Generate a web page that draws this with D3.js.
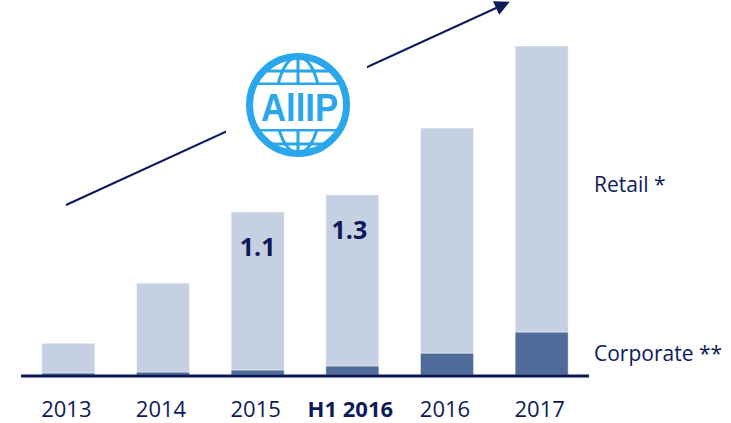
<!DOCTYPE html>
<html>
<head>
<meta charset="utf-8">
<script src="https://cdn.jsdelivr.net/npm/d3@7"></script>
<style>
  body { margin: 0; background: #fff; }
  text { font-family: 'Open Sans', sans-serif; }
</style>
</head>
<body>
<div id="chart"></div>
<script>
// Data (million customers)
const years = ['2013', '2014', '2015', 'H1 2016', '2016', '2017']
const retail = [0.20, 0.60, 1.066, 1.154, 1.518, 1.93]
const corporate = [0.014, 0.02, 0.034, 0.061, 0.148, 0.29]
const valueLabels = [null, null, '1.1', '1.3', null, null]
const seriesNames = ['Retail *', 'Corporate **']

const navy = '#0d1a5a'

const dimensions = { width: 731, height: 423 }

const svg = d3.select('#chart')
  .append('svg')
  .attr('width', dimensions.width)
  .attr('height', dimensions.height)

const rows = years.map((y, i) => ({ year: y, corporate: corporate[i], retail: retail[i], label: valueLabels[i] }))

// Scales
const xScale = d3.scaleBand()
  .domain(years)
  .range([21, 589])
  .paddingInner(0.44)
  .paddingOuter(0.22)

const yScale = d3.scaleLinear()
  .domain([0, 2.22])
  .range([375, 46])

const stack = d3.stack().keys(['corporate', 'retail'])
const layers = stack(rows)
const colors = { corporate: '#4e6b99', retail: '#c5d0e2' }

// Arrow (drawn first so the logo box covers it)
svg.append('defs').append('marker')
  .attr('id', 'head')
  .attr('viewBox', '0 0 10 10')
  .attr('refX', 8).attr('refY', 5)
  .attr('markerUnits', 'userSpaceOnUse')
  .attr('orient', 'auto')
  .attr('markerWidth', 17).attr('markerHeight', 15)
  .append('path')
  .attr('d', 'M0,0 L10,5 L0,10 Z')
  .attr('fill', navy)

svg.append('line')
  .attr('x1', 66).attr('y1', 205)
  .attr('x2', 507).attr('y2', 3)
  .attr('stroke', navy)
  .attr('stroke-width', 2)
  .attr('marker-end', 'url(#head)')

// Bars
svg.selectAll('g.layer')
  .data(layers)
  .join('g')
  .attr('class', 'layer')
  .attr('fill', d => colors[d.key])
  .selectAll('rect')
  .data(d => d)
  .join('rect')
  .attr('x', d => xScale(d.data.year))
  .attr('width', xScale.bandwidth())
  .attr('y', d => yScale(d[1]))
  .attr('height', d => yScale(d[0]) - yScale(d[1]))
  .attr('stroke', 'rgba(255,255,255,0.45)')
  .attr('stroke-width', 1)

// Value labels inside bars
svg.selectAll('text.value')
  .data(rows.filter(d => d.label))
  .join('text')
  .attr('class', 'value')
  .attr('x', d => xScale(d.year) + xScale.bandwidth() / 2 - (d.year === 'H1 2016' ? 3 : 0))
  .attr('y', d => yScale(d.corporate + d.retail) + 44)
  .attr('text-anchor', 'middle')
  .attr('fill', navy)
  .style('font-size', '25px')
  .style('font-weight', 700)
  .text(d => d.label)

// Baseline
svg.append('line')
  .attr('x1', xScale.range()[0]).attr('x2', xScale.range()[1])
  .attr('y1', 376).attr('y2', 376)
  .attr('stroke', '#0c1650')
  .attr('stroke-width', 3)

// Category labels
svg.selectAll('text.year')
  .data(years)
  .join('text')
  .attr('class', 'year')
  .attr('x', d => xScale(d) + xScale.bandwidth() / 2 - 2)
  .attr('y', 416.5)
  .attr('text-anchor', 'middle')
  .attr('fill', navy)
  .style('font-size', '22px')
  .style('font-weight', d => d === 'H1 2016' ? 700 : 500)
  .text(d => d)

// Series labels on the right
svg.append('text')
  .attr('x', 594)
  .attr('y', 192)
  .attr('fill', navy)
  .style('font-size', '21px')
  .text(seriesNames[0])

svg.append('text')
  .attr('x', 594)
  .attr('y', 361)
  .attr('fill', navy)
  .style('font-size', '21px')
  .text(seriesNames[1])

// AllIP logo
const logo = svg.append('g')
const cx = 298, cy = 105, r = 48
const blue = '#29a6ec'

logo.append('rect')
  .attr('x', 226).attr('y', 38)
  .attr('width', 141).attr('height', 130)
  .attr('fill', '#fff')

logo.append('clipPath').attr('id', 'globe')
  .append('circle').attr('cx', cx).attr('cy', cy).attr('r', r)

const grid = logo.append('g')
  .attr('clip-path', 'url(#globe)')
  .attr('stroke', blue)
  .attr('stroke-width', 3)
  .attr('fill', 'none')

;[-34, -21, 25, 39].forEach(dy => {
  grid.append('line')
    .attr('x1', cx - r).attr('x2', cx + r)
    .attr('y1', cy + dy).attr('y2', cy + dy)
})
grid.append('line')
  .attr('x1', cx).attr('x2', cx)
  .attr('y1', cy - r).attr('y2', cy + r)
grid.append('ellipse')
  .attr('cx', cx).attr('cy', cy)
  .attr('rx', 22).attr('ry', r)

// white band for the text
logo.append('rect')
  .attr('x', cx - r + 2).attr('y', cy - 20)
  .attr('width', 2 * r - 4).attr('height', 44)
  .attr('fill', '#fff')

logo.append('circle')
  .attr('cx', cx).attr('cy', cy).attr('r', r + 0.5)
  .attr('fill', 'none')
  .attr('stroke', blue)
  .attr('stroke-width', 7)

logo.append('text')
  .attr('x', 261)
  .attr('y', 121)
  .attr('fill', blue)
  .attr('textLength', 77)
  .attr('lengthAdjust', 'spacingAndGlyphs')
  .style('font-family', "'Liberation Sans', Arial, sans-serif")
  .style('font-size', '39px')
  .style('font-weight', 700)
  .text('AllIP')
</script>
</body>
</html>
